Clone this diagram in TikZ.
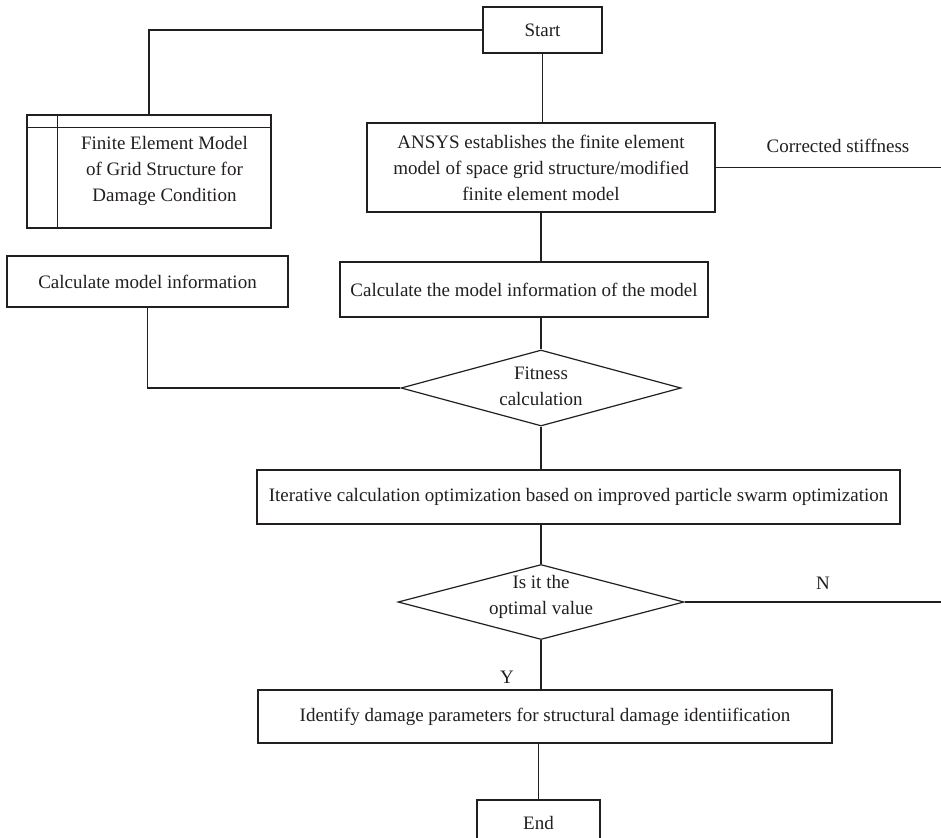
\documentclass[tikz,border=0pt]{standalone}
\usepackage{fontspec}
\setmainfont{Liberation Serif}
\usetikzlibrary{shapes.geometric}
\definecolor{linec}{HTML}{231F20}
\newcommand{\flowfont}{\fontsize{19}{26}\selectfont}
\begin{document}
\begin{tikzpicture}[x=1pt,y=-1pt,
  ln/.style={draw=linec, line width=1.2pt},
  box/.style={draw=linec, line width=1.2pt, rectangle, inner sep=0pt, align=center, font=\flowfont, text=linec},
  dia/.style={draw=linec, line width=1.2pt, diamond, inner sep=0pt},
  txt/.style={inner sep=0pt, align=center, font=\flowfont, text=linec}
]
\useasboundingbox (0,0) rectangle (941,837);
\fill[white] (0,0) rectangle (941,837);

\node[box, minimum width=119, minimum height=46] (start) at (542.5,30) {Start};

\node[box, minimum width=244, minimum height=113] (fem) at (149,171.5) {};
\node[txt] (femtext) at (164.5,171) {Finite Element Model\\of Grid Structure for\\Damage Condition};
\draw[ln] ([yshift=-13pt]fem.north west) -- ([yshift=-13pt]fem.north east);
\draw[ln] ([xshift=31pt]fem.north west) -- ([xshift=31pt]fem.south west);

\node[box, minimum width=348, minimum height=89] (ansys) at (541,167.5) {ANSYS establishes the finite element\\model of space grid structure/modified\\finite element model};
\node[txt] (cs) at (838,146) {Corrected stiffness};
\coordinate (csend) at (941,167.5);

\node[box, minimum width=281, minimum height=51] (cmi) at (147.5,281.5) {Calculate model information};
\node[box, minimum width=368, minimum height=55] (cmt) at (524,289.5) {Calculate the model information of the model};

\node[dia, minimum width=280, minimum height=76] (fit) at (541,388) {};
\node[txt] (fittext) at (541,386) {Fitness\\calculation};

\node[box, minimum width=643, minimum height=54] (it) at (578.5,497) {Iterative calculation optimization based on improved particle swarm optimization};

\node[dia, minimum width=286, minimum height=75] (d2) at (541,602) {};
\node[txt] (d2text) at (541,597) {Is it the\\optimal value};
\node[txt] (nlab) at (823,583) {N};
\coordinate (nend) at (941,602);
\node[txt] (ylab) at (507,677) {Y};

\node[box, minimum width=574, minimum height=53] (idf) at (545,716.5) {Identify damage parameters for structural damage identiification};

\node[box, minimum width=123, minimum height=46] (endn) at (538.5,823) {End};

\draw[ln] (start.south) -- (start.south |- ansys.north);
\draw[ln] (start.west) -| (fem.north);
\draw[ln] (ansys.east) -- (csend);
\draw[ln] (ansys.south) -- (ansys.south |- cmt.north);
\draw[ln] (cmt.south -| fit.north) -- (fit.north);
\draw[ln] (cmi.south) |- (fit.west);
\draw[ln] (fit.south) -- (fit.south |- it.north);
\draw[ln] (it.south -| d2.north) -- (d2.north);
\draw[ln] (d2.east) -- (nend);
\draw[ln] (d2.south) -- (d2.south |- idf.north);
\draw[ln] (idf.south -| endn.north) -- (endn.north);
\end{tikzpicture}
\end{document}
